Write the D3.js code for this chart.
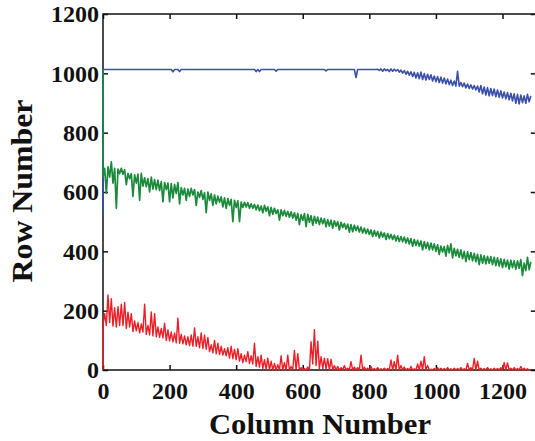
<!DOCTYPE html>
<html>
<head>
<meta charset="utf-8">
<script src="https://cdn.jsdelivr.net/npm/d3@7"></script>
<style>
  html, body { margin: 0; padding: 0; background: #fff; }
  svg { display: block; }
  .tick text { font-family: "Liberation Serif", "Times New Roman", serif; font-weight: bold; font-size: 24px; fill: #111; }
  .title { font-family: "Liberation Serif", "Times New Roman", serif; font-weight: bold; font-size: 29px; fill: #111; }
</style>
</head>
<body>
<svg id="chart" width="535" height="441"></svg>
<script>
// Column bins (every 10 columns) at which each curve's low/high extent was recorded
const columns = [
  0,10,20,30,40,50,60,70,80,90,100,110,120,130,140,150,160,170,180,190,
  200,210,220,230,240,250,260,270,280,290,300,310,320,330,340,350,360,370,380,390,
  400,410,420,430,440,450,460,470,480,490,500,510,520,530,540,550,560,570,580,590,
  600,610,620,630,640,650,660,670,680,690,700,710,720,730,740,750,760,770,780,790,
  800,810,820,830,840,850,860,870,880,890,900,910,920,930,940,950,960,970,980,990,
  1000,1010,1020,1030,1040,1050,1060,1070,1080,1090,1100,1110,1120,1130,1140,1150,1160,1170,1180,1190,
  1200,1210,1220,1230,1240,1250,1260,1270,1280
];

const xTicks = [0, 200, 400, 600, 800, 1000, 1200];
const yTicks = [0, 200, 400, 600, 800, 1000, 1200];

// Row where each curve starts at column 0
const blueStart = 520;
const greenStart = 1013;
const redStart = 0;

const blueLo = [
  1013,1013,1013,1013,1013,1013,1013,1013,1013,1013,
  1013,1013,1013,1013,1013,1013,1013,1013,1013,1013,
  1013,1005,1013,1006,1013,1013,1013,1013,1013,1013,
  1013,1013,1013,1013,1013,1013,1013,1013,1013,1013,
  1013,1013,1013,1013,1013,1013,1006,1006,1013,1013,
  1013,1013,1007,1013,1013,1013,1013,1013,1013,1013,
  1013,1013,1013,1013,1013,1013,1013,1008,1013,1013,
  1013,1013,1013,1013,1013,1013,986,1013,1013,1013,
  1013,1013,1013,1010,1007,1009,1006,1007,1008,1004,
  1001,997,994,989,984,982,979,977,979,974,
  972,969,967,964,962,959,957,957,955,951,
  949,947,944,937,931,927,924,925,921,919,
  917,914,911,907,899,897,901,899,904
];
const blueHi = [
  1013,1013,1013,1013,1013,1013,1013,1013,1013,1013,
  1013,1013,1013,1013,1013,1013,1013,1013,1013,1013,
  1013,1013,1013,1013,1013,1013,1013,1013,1013,1013,
  1013,1013,1013,1013,1013,1013,1013,1013,1013,1013,
  1013,1013,1013,1013,1013,1013,1013,1013,1013,1013,
  1013,1013,1013,1013,1013,1013,1013,1013,1013,1013,
  1013,1013,1013,1013,1013,1013,1013,1013,1013,1013,
  1013,1013,1013,1013,1013,1013,1013,1013,1013,1013,
  1013,1013,1014,1015,1015,1013,1015,1014,1013,1011,
  1009,1007,1005,1003,1002,1004,999,997,995,991,
  989,987,984,981,977,974,1007,969,967,964,
  961,959,957,959,954,952,949,947,944,941,
  937,935,933,931,929,927,924,929,924
];

const greenLo = [
  650,595,650,630,545,662,660,625,645,585,
  630,572,620,618,600,610,608,605,567,608,
  567,580,595,560,590,572,585,590,555,582,
  575,530,572,555,560,565,550,545,555,500,
  548,500,548,550,545,545,540,537,530,535,
  520,525,528,505,520,518,515,512,505,490,
  505,483,498,488,495,490,493,483,485,478,
  485,472,480,475,465,466,470,465,462,460,
  457,450,452,445,448,440,443,440,435,433,
  432,428,425,417,420,417,405,410,405,405,
  400,390,398,384,395,378,385,380,375,365,
  372,368,365,355,360,358,360,355,352,350,
  345,348,340,345,340,343,318,335,338
];
const greenHi = [
  680,685,702,680,677,680,675,663,662,658,
  660,663,648,645,650,642,640,635,632,630,
  628,625,632,615,612,610,612,608,600,605,
  598,600,594,590,586,584,580,578,575,572,
  570,566,565,564,560,558,556,553,555,550,
  548,545,540,540,538,535,533,530,528,524,
  527,525,520,518,515,512,510,507,505,503,
  500,498,494,492,490,488,485,482,478,475,
  472,470,467,465,462,460,457,455,452,450,
  448,445,443,440,437,435,433,430,428,425,
  422,418,416,420,425,410,407,405,400,398,
  396,393,390,388,385,383,382,380,378,375,
  373,370,370,368,368,372,360,380,365
];

const redLo = [
  150,150,160,148,145,150,150,140,145,130,
  132,125,128,120,118,115,112,110,108,100,
  98,95,92,90,88,85,82,80,80,75,
  72,70,62,58,55,52,50,48,40,38,
  35,30,25,28,22,20,12,10,5,3,
  0,0,0,0,0,0,0,0,0,0,
  0,0,0,20,15,5,5,5,0,0,
  0,0,0,0,0,0,0,0,0,0,
  0,0,0,0,0,0,0,0,0,0,
  0,0,0,0,0,0,0,0,0,0,
  0,0,0,0,0,0,0,0,0,0,
  0,0,0,0,0,0,0,0,0,0,
  0,0,0,0,0,0,0,0,0
];
const redHi = [
  190,253,240,210,213,222,228,195,190,165,
  160,155,222,150,196,190,145,140,158,135,
  128,125,175,120,115,112,118,142,112,125,
  118,110,85,100,90,80,72,75,80,70,
  72,55,50,62,48,90,45,50,35,40,
  30,22,18,48,25,50,12,66,55,8,
  5,10,95,136,97,45,40,38,36,15,
  12,8,15,6,28,10,8,50,10,6,
  12,5,8,4,6,5,34,28,50,15,
  10,5,12,4,20,30,45,15,3,5,
  8,6,5,8,4,6,5,8,4,22,
  8,39,30,6,5,8,4,6,5,8,
  25,24,6,8,5,12,6,4,2
];

const series = [
  { name: "blue",  color: "#3a4fa8", width: 1.6, start: blueStart,  lo: blueLo,  hi: blueHi },
  { name: "green", color: "#1b8a3b", width: 1.7, start: greenStart, lo: greenLo, hi: greenHi },
  { name: "red",   color: "#ee1d25", width: 1.4, start: redStart,   lo: redLo,   hi: redHi }
];

const svg = d3.select("#chart");
const x = d3.scaleLinear().domain([0, 1300]).range([103, 535.8]);
const y = d3.scaleLinear().domain([0, 1200]).range([370, 14]);

const x0 = x.range()[0], x1 = x.range()[1];
const y0 = y.range()[0], y1 = y.range()[1];
const fmt = d3.format("d");

// Axes: ticks point inward on all four sides
svg.append("g")
  .attr("transform", `translate(0,${y0})`)
  .call(d3.axisBottom(x).tickValues(xTicks).tickFormat(fmt).tickSizeInner(-5).tickSizeOuter(0).tickPadding(12))
  .call(g => g.select(".domain").remove());

svg.append("g")
  .attr("transform", `translate(0,${y1})`)
  .call(d3.axisTop(x).tickValues(xTicks).tickSizeInner(-5).tickSizeOuter(0).tickFormat(""))
  .call(g => g.select(".domain").remove());

svg.append("g")
  .attr("transform", `translate(${x0},0)`)
  .call(d3.axisLeft(y).tickValues(yTicks).tickFormat(fmt).tickSizeInner(-5).tickSizeOuter(0).tickPadding(4))
  .call(g => g.select(".domain").remove());

svg.append("g")
  .attr("transform", `translate(${x1},0)`)
  .call(d3.axisRight(y).tickValues(yTicks).tickSizeInner(-5).tickSizeOuter(0).tickFormat(""))
  .call(g => g.select(".domain").remove());

svg.selectAll(".tick line").attr("stroke", "#111").attr("stroke-width", 1.5);

// Plot frame
svg.append("rect")
  .attr("x", x0).attr("y", y1)
  .attr("width", x1 - x0).attr("height", y0 - y1)
  .attr("fill", "none").attr("stroke", "#111").attr("stroke-width", 1.5);

// Each curve: start row at column 0, then the low and high extent within every 10-column bin
const line = d3.line().x(d => x(d[0])).y(d => y(d[1]));
series.forEach(s => {
  const pts = [[0, s.start]];
  columns.forEach((c, i) => {
    pts.push([c, s.lo[i]]);
    pts.push([c + 5, s.hi[i]]);
  });
  svg.append("path")
    .datum(pts)
    .attr("d", line)
    .attr("fill", "none")
    .attr("stroke", s.color)
    .attr("stroke-width", s.width)
    .attr("stroke-linejoin", "round");
});

// Axis titles
svg.append("text")
  .attr("class", "title")
  .attr("x", 320).attr("y", 434)
  .attr("text-anchor", "middle")
  .attr("textLength", 222).attr("lengthAdjust", "spacingAndGlyphs")
  .text("Column Number");

svg.append("text")
  .attr("class", "title")
  .attr("transform", "translate(32,191) rotate(-90)")
  .attr("text-anchor", "middle")
  .attr("textLength", 183).attr("lengthAdjust", "spacingAndGlyphs")
  .text("Row Number");
</script>
</body>
</html>
